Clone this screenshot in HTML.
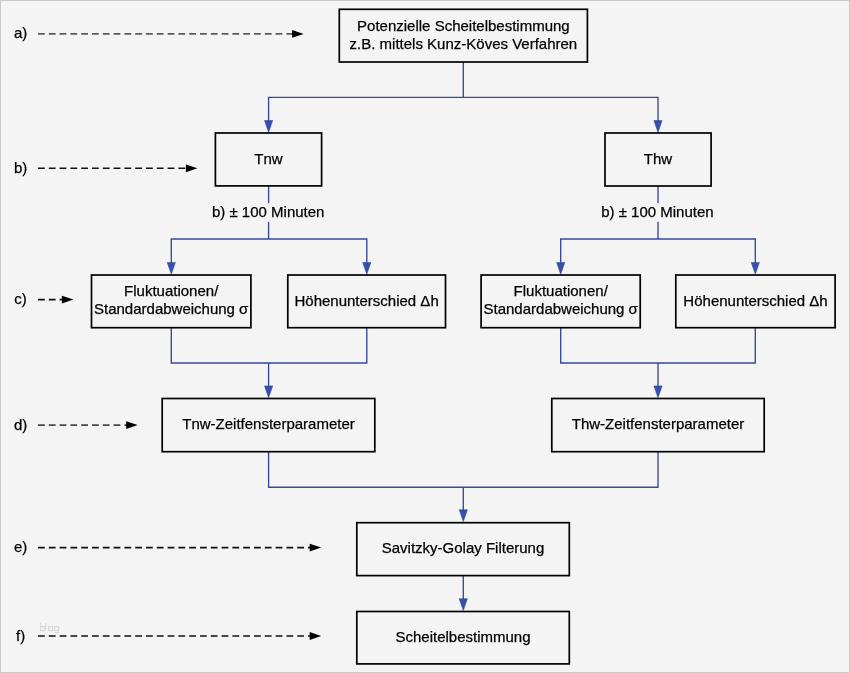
<!DOCTYPE html>
<html><head><meta charset="utf-8"><style>
html,body{margin:0;padding:0;background:#f4f4f4;}
svg{display:block;will-change:transform;}
text{font-family:"Liberation Sans", sans-serif;font-size:15px;fill:#000;stroke:#000;stroke-width:0.25px;}
</style></head><body>
<svg width="850" height="673" viewBox="0 0 850 673">
<rect x="0.5" y="0.5" width="849" height="672" fill="#f4f4f4" stroke="#c9c9c9" stroke-width="1"/>
<polyline points="463.3,62 463.3,97.4" fill="none" stroke="#35489a" stroke-width="1.35"/>
<polyline points="268.6,121 268.6,97.4 658.0,97.4 658.0,121" fill="none" stroke="#35489a" stroke-width="1.35"/>
<polyline points="268.6,185.9 268.6,203.2" fill="none" stroke="#35489a" stroke-width="1.35"/>
<polyline points="268.6,221.8 268.6,239.0" fill="none" stroke="#35489a" stroke-width="1.35"/>
<polyline points="658.0,186.0 658.0,203.2" fill="none" stroke="#35489a" stroke-width="1.35"/>
<polyline points="658.0,221.8 658.0,239.0" fill="none" stroke="#35489a" stroke-width="1.35"/>
<polyline points="171.3,263 171.3,239.0 366.8,239.0 366.8,263" fill="none" stroke="#35489a" stroke-width="1.35"/>
<polyline points="560.7,263 560.7,239.0 755.3,239.0 755.3,263" fill="none" stroke="#35489a" stroke-width="1.35"/>
<polyline points="171.3,327.7 171.3,363.0 366.8,363.0 366.8,327.7" fill="none" stroke="#35489a" stroke-width="1.35"/>
<polyline points="560.7,327.7 560.7,363.0 755.3,363.0 755.3,327.7" fill="none" stroke="#35489a" stroke-width="1.35"/>
<polyline points="268.6,363.0 268.6,387" fill="none" stroke="#35489a" stroke-width="1.35"/>
<polyline points="658.0,363.0 658.0,387" fill="none" stroke="#35489a" stroke-width="1.35"/>
<polyline points="268.6,451.7 268.6,487.2 658.0,487.2 658.0,451.7" fill="none" stroke="#35489a" stroke-width="1.35"/>
<polyline points="463.3,487.2 463.3,510" fill="none" stroke="#35489a" stroke-width="1.35"/>
<polyline points="463.3,575.6 463.3,599" fill="none" stroke="#35489a" stroke-width="1.35"/>
<polygon points="264.5,120.5 272.70000000000005,120.5 268.6,132.4" fill="#3550ac" stroke="#2f4088" stroke-width="0.5"/>
<polygon points="653.9,120.5 662.1,120.5 658.0,132.4" fill="#3550ac" stroke="#2f4088" stroke-width="0.5"/>
<polygon points="167.20000000000002,262.4 175.4,262.4 171.3,274.3" fill="#3550ac" stroke="#2f4088" stroke-width="0.5"/>
<polygon points="362.7,262.4 370.90000000000003,262.4 366.8,274.3" fill="#3550ac" stroke="#2f4088" stroke-width="0.5"/>
<polygon points="556.6,262.4 564.8000000000001,262.4 560.7,274.3" fill="#3550ac" stroke="#2f4088" stroke-width="0.5"/>
<polygon points="751.1999999999999,262.4 759.4,262.4 755.3,274.3" fill="#3550ac" stroke="#2f4088" stroke-width="0.5"/>
<polygon points="264.5,385.9 272.70000000000005,385.9 268.6,397.8" fill="#3550ac" stroke="#2f4088" stroke-width="0.5"/>
<polygon points="653.9,385.9 662.1,385.9 658.0,397.8" fill="#3550ac" stroke="#2f4088" stroke-width="0.5"/>
<polygon points="459.2,509.69999999999993 467.40000000000003,509.69999999999993 463.3,521.5999999999999" fill="#3550ac" stroke="#2f4088" stroke-width="0.5"/>
<polygon points="459.2,598.6999999999999 467.40000000000003,598.6999999999999 463.3,610.5999999999999" fill="#3550ac" stroke="#2f4088" stroke-width="0.5"/>
<rect x="339.3" y="9.3" width="248.1" height="52.7" fill="none" stroke="#000" stroke-width="1.7"/>
<text x="463.4" y="31.0" text-anchor="middle">Potenzielle Scheitelbestimmung</text>
<text x="463.4" y="48.8" text-anchor="middle">z.B. mittels Kunz-Köves Verfahren</text>
<rect x="215.4" y="133.0" width="106.2" height="52.9" fill="none" stroke="#000" stroke-width="1.7"/>
<text x="268.5" y="164.2" text-anchor="middle">Tnw</text>
<rect x="605.0" y="133.0" width="106.1" height="53.0" fill="none" stroke="#000" stroke-width="1.7"/>
<text x="658.0" y="164.2" text-anchor="middle">Thw</text>
<rect x="91.5" y="275.0" width="159.4" height="52.7" fill="none" stroke="#000" stroke-width="1.7"/>
<text x="171.2" y="296.4" text-anchor="middle">Fluktuationen/</text>
<text x="171.2" y="314.1" text-anchor="middle">Standardabweichung σ</text>
<rect x="287.8" y="275.0" width="157.7" height="52.7" fill="none" stroke="#000" stroke-width="1.7"/>
<text x="366.6" y="305.8" text-anchor="middle">Höhenunterschied Δh</text>
<rect x="481.1" y="275.0" width="159.1" height="52.7" fill="none" stroke="#000" stroke-width="1.7"/>
<text x="560.7" y="296.4" text-anchor="middle">Fluktuationen/</text>
<text x="560.7" y="314.1" text-anchor="middle">Standardabweichung σ</text>
<rect x="675.8" y="275.0" width="159.3" height="52.7" fill="none" stroke="#000" stroke-width="1.7"/>
<text x="755.5" y="305.8" text-anchor="middle">Höhenunterschied Δh</text>
<rect x="162.2" y="398.5" width="212.6" height="53.2" fill="none" stroke="#000" stroke-width="1.7"/>
<text x="268.5" y="429.3" text-anchor="middle">Tnw-Zeitfensterparameter</text>
<rect x="551.8" y="398.5" width="212.4" height="53.2" fill="none" stroke="#000" stroke-width="1.7"/>
<text x="658.0" y="429.3" text-anchor="middle">Thw-Zeitfensterparameter</text>
<rect x="356.8" y="522.7" width="212.5" height="52.9" fill="none" stroke="#000" stroke-width="1.7"/>
<text x="463.0" y="553.3" text-anchor="middle">Savitzky-Golay Filterung</text>
<rect x="356.8" y="611.5" width="212.5" height="52.4" fill="none" stroke="#000" stroke-width="1.7"/>
<text x="463.0" y="641.7" text-anchor="middle">Scheitelbestimmung</text>
<text x="268.2" y="216.7" text-anchor="middle">b) ± 100 Minuten</text>
<text x="657.4" y="216.7" text-anchor="middle">b) ± 100 Minuten</text>
<text x="20.6" y="37.9" text-anchor="middle">a)</text>
<line x1="38" y1="33.9" x2="293.6" y2="33.9" stroke="#5c5c5c" stroke-width="1.9" stroke-dasharray="6.8 4.0"/>
<polygon points="292.1,30.0 292.1,37.8 303.6,33.9" fill="#000"/>
<text x="20.6" y="173.4" text-anchor="middle">b)</text>
<line x1="38" y1="168.3" x2="187.4" y2="168.3" stroke="#111" stroke-width="1.6" stroke-dasharray="6.8 4.0"/>
<polygon points="185.9,164.4 185.9,172.20000000000002 197.4,168.3" fill="#000"/>
<text x="20.6" y="304.0" text-anchor="middle">c)</text>
<line x1="38" y1="299.6" x2="63.400000000000006" y2="299.6" stroke="#111" stroke-width="1.6" stroke-dasharray="6.8 4.0"/>
<polygon points="61.900000000000006,295.70000000000005 61.900000000000006,303.5 73.4,299.6" fill="#000"/>
<text x="20.6" y="429.7" text-anchor="middle">d)</text>
<line x1="38" y1="425.1" x2="127.69999999999999" y2="425.1" stroke="#484848" stroke-width="1.9" stroke-dasharray="6.8 4.0"/>
<polygon points="126.19999999999999,421.20000000000005 126.19999999999999,429.0 137.7,425.1" fill="#000"/>
<text x="20.6" y="552.4" text-anchor="middle">e)</text>
<line x1="38" y1="547.6" x2="311.2" y2="547.6" stroke="#111" stroke-width="1.6" stroke-dasharray="6.8 4.0"/>
<polygon points="309.7,543.7 309.7,551.5 321.2,547.6" fill="#000"/>
<text x="20.6" y="640.8" text-anchor="middle">f)</text>
<line x1="38" y1="636.0" x2="311.2" y2="636.0" stroke="#111" stroke-width="1.6" stroke-dasharray="6.8 4.0"/>
<polygon points="309.7,632.1 309.7,639.9 321.2,636.0" fill="#000"/>
<g fill="none" stroke="#d9d9d9" stroke-width="1.1"><path d="M40.6,622.8V630.6H44.6V626.6H40.6"/><path d="M45.7,622.8V630.6"/><rect x="48.6" y="626.6" width="4" height="4"/><rect x="54.6" y="626.6" width="4" height="4"/><path d="M58.6,630.6V632.6H55"/></g>
</svg>
</body></html>
